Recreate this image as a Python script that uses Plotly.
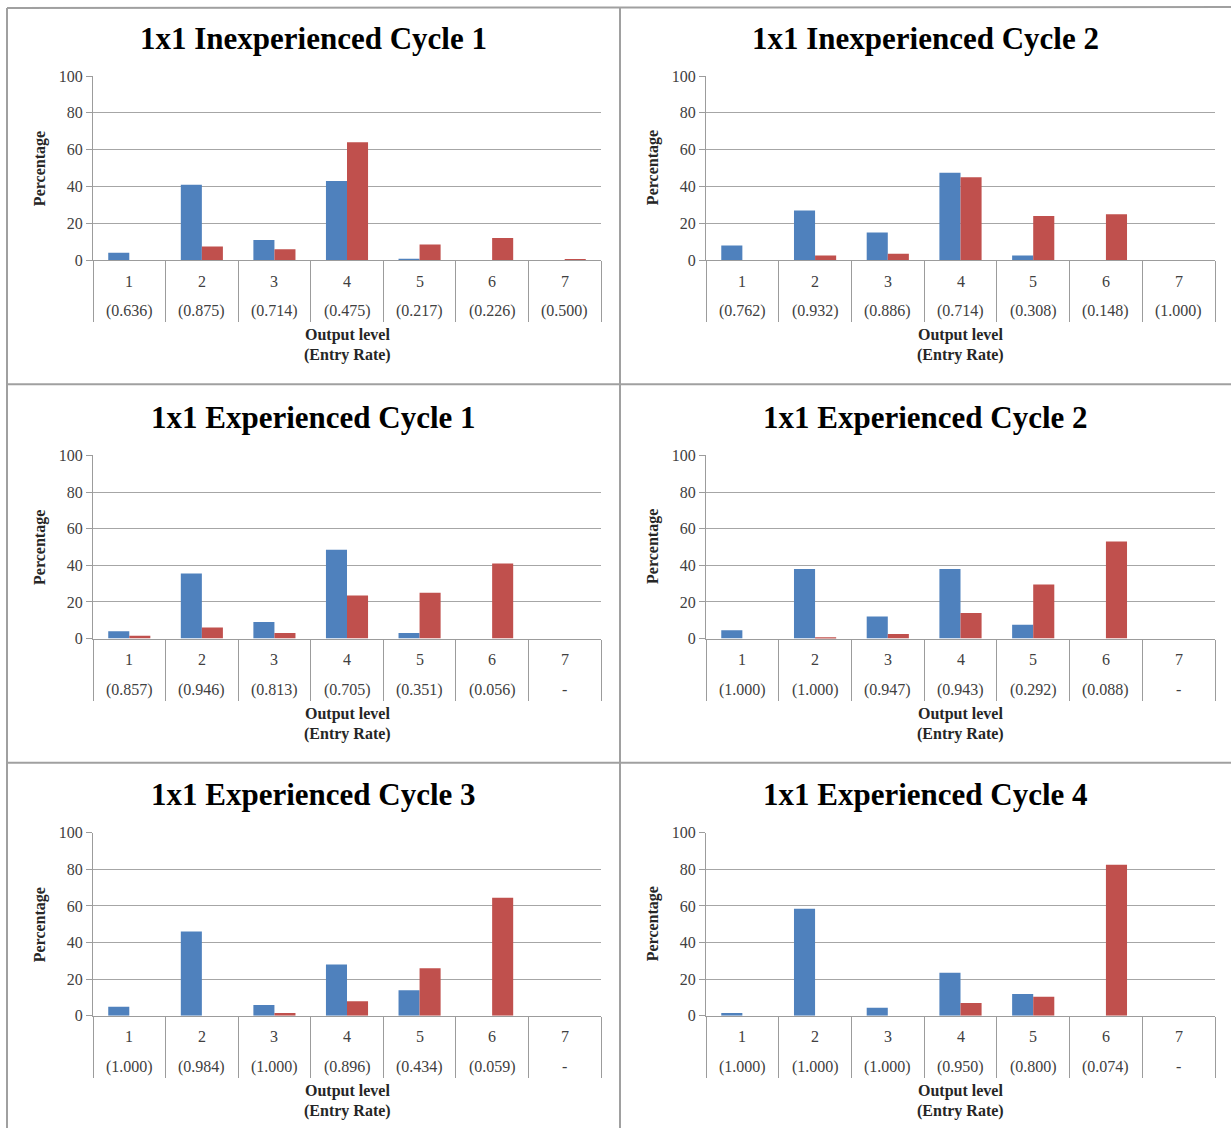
import plotly.graph_objects as go

levels = ["1", "2", "3", "4", "5", "6", "7"]

titles = [
    "1x1 Inexperienced Cycle 1",
    "1x1 Inexperienced Cycle 2",
    "1x1 Experienced Cycle 1",
    "1x1 Experienced Cycle 2",
    "1x1 Experienced Cycle 3",
    "1x1 Experienced Cycle 4",
]

blue_inexp_c1 = [4, 41, 11, 43, 0.8, 0, 0]
red_inexp_c1 = [0, 7.5, 6, 64, 8.5, 12, 0.7]
blue_inexp_c2 = [8, 27, 15, 47.5, 2.5, 0, 0]
red_inexp_c2 = [0, 2.5, 3.5, 45, 24, 25, 0]
blue_exp_c1 = [4, 35.5, 9, 48.5, 3, 0, 0]
red_exp_c1 = [1.5, 6, 3, 23.5, 25, 41, 0]
blue_exp_c2 = [4.5, 38, 12, 38, 7.5, 0, 0]
red_exp_c2 = [0, 0.7, 2.5, 14, 29.5, 53, 0]
blue_exp_c3 = [5, 46, 6, 28, 14, 0, 0]
red_exp_c3 = [0, 0, 1.5, 8, 26, 64.5, 0]
blue_exp_c4 = [1.5, 58.5, 4.5, 23.5, 12, 0, 0]
red_exp_c4 = [0, 0, 0, 7, 10.5, 82.5, 0]

rates_inexp_c1 = ["(0.636)", "(0.875)", "(0.714)", "(0.475)", "(0.217)", "(0.226)", "(0.500)"]
rates_inexp_c2 = ["(0.762)", "(0.932)", "(0.886)", "(0.714)", "(0.308)", "(0.148)", "(1.000)"]
rates_exp_c1 = ["(0.857)", "(0.946)", "(0.813)", "(0.705)", "(0.351)", "(0.056)", "-"]
rates_exp_c2 = ["(1.000)", "(1.000)", "(0.947)", "(0.943)", "(0.292)", "(0.088)", "-"]
rates_exp_c3 = ["(1.000)", "(0.984)", "(1.000)", "(0.896)", "(0.434)", "(0.059)", "-"]
rates_exp_c4 = ["(1.000)", "(1.000)", "(1.000)", "(0.950)", "(0.800)", "(0.074)", "-"]

blues = [blue_inexp_c1, blue_inexp_c2, blue_exp_c1, blue_exp_c2, blue_exp_c3, blue_exp_c4]
reds = [red_inexp_c1, red_inexp_c2, red_exp_c1, red_exp_c2, red_exp_c3, red_exp_c4]
rates = [rates_inexp_c1, rates_inexp_c2, rates_exp_c1, rates_exp_c2, rates_exp_c3, rates_exp_c4]

W, H = 1231, 1137
BLUE = "#4F81BD"
RED = "#C0504D"
GRAY = "#9c9c9c"
GRID = "#a6a6a6"
TXT = "#404040"
FONT = "Liberation Serif, Times New Roman, serif"

# layout positions in target pixels (x, y measured on the target picture)
col_px = [(93, 601), (706, 1215)]
row_px = [(76, 260), (455, 638), (832, 1015)]
title_x_px = [313, 925]
title_y_px = [38, 417, 794]


def px(x):
    return x / W


def py(y):
    # vertical calibration of the rendered page
    p = (y - 8) / 0.9842
    return 1 - p / H


fig = go.Figure()
layout = {}
annotations = []

for i in range(6):
    r, c = divmod(i, 2)
    n = i + 1
    xn = "x" if n == 1 else f"x{n}"
    yn = "y" if n == 1 else f"y{n}"
    xk = "xaxis" if n == 1 else f"xaxis{n}"
    yk = "yaxis" if n == 1 else f"yaxis{n}"
    fig.add_trace(go.Bar(x=levels, y=blues[i], marker_color=BLUE, marker_line_width=0,
                         xaxis=xn, yaxis=yn, showlegend=False))
    fig.add_trace(go.Bar(x=levels, y=reds[i], marker_color=RED, marker_line_width=0,
                         xaxis=xn, yaxis=yn, showlegend=False))
    x0, x1 = col_px[c]
    y0, y1 = row_px[r]
    layout[xk] = dict(
        domain=[px(x0), px(x1)], anchor=yn, type="category",
        range=[-0.5, 6.5], tickson="boundaries", ticks="outside", ticklen=61,
        tickcolor=GRAY, tickwidth=1, showticklabels=False,
        showline=True, linecolor=GRAY, linewidth=1, showgrid=False, fixedrange=True,
    )
    layout[yk] = dict(
        domain=[py(y1), py(y0)], anchor=xn, range=[0, 100], dtick=20,
        ticks="outside", ticklen=6, tickcolor=GRAY, showline=True, linecolor=GRAY,
        linewidth=1, showgrid=True, gridcolor=GRID, gridwidth=1, zeroline=False,
        tickfont=dict(family=FONT, size=16, color=TXT), fixedrange=True,
    )
    xd = f"{xn} domain"
    yd = f"{yn} domain"
    for j, lv in enumerate(levels):
        annotations.append(dict(x=j, xref=xn, y=0, yref=yd, yshift=-21, text=lv,
                                showarrow=False, yanchor="middle",
                                font=dict(family=FONT, size=16, color=TXT)))
        annotations.append(dict(x=j, xref=xn, y=0, yref=yd, yshift=-51, text=rates[i][j],
                                showarrow=False, yanchor="middle",
                                font=dict(family=FONT, size=16, color=TXT)))
    annotations.append(dict(x=0.5, xref=xd, y=0, yref=yd, yshift=-75, text="<b>Output level</b>",
                            showarrow=False, yanchor="middle",
                            font=dict(family=FONT, size=16, color="#262626")))
    annotations.append(dict(x=0.5, xref=xd, y=0, yref=yd, yshift=-95, text="<b>(Entry Rate)</b>",
                            showarrow=False, yanchor="middle",
                            font=dict(family=FONT, size=16, color="#262626")))
    annotations.append(dict(x=px(40 + 613 * c), xref="paper", y=0.5, yref=yd, text="<b>Percentage</b>",
                            textangle=-90, showarrow=False, xanchor="center", yanchor="middle",
                            font=dict(family=FONT, size=16, color="#262626")))
    annotations.append(dict(x=px(title_x_px[c]), xref="paper", y=py(title_y_px[r]), yref="paper",
                            text=f"<b>{titles[i]}</b>", showarrow=False,
                            xanchor="center", yanchor="middle",
                            font=dict(family=FONT, size=31, color="#000000")))

shapes = []
BORDER = "#a0a0a0"
for (a, b, c2, d) in [(7, 7, 7, 1160), (620, 7, 620, 1160), (7, 7, 1231, 7),
                      (7, 384, 1231, 384), (7, 762, 1231, 762)]:
    y_a = min(py(b), 1.0)
    y_b = max(py(d), 0.0)
    shapes.append(dict(type="line", xref="paper", yref="paper", x0=px(a), y0=y_a,
                       x1=px(c2), y1=y_b, line=dict(color=BORDER, width=2)))

fig.update_layout(
    width=W, height=H, margin=dict(l=0, r=0, t=0, b=0),
    paper_bgcolor="white", plot_bgcolor="white",
    barmode="group", bargap=0.42, bargroupgap=0,
    annotations=annotations, shapes=shapes,
    font=dict(family=FONT),
    **layout,
)

post = (
    "document.body.style.margin='0px';document.body.style.padding='0px';"
    "document.documentElement.style.overflow='hidden';document.body.style.overflow='hidden';"
    "var d=document.getElementById('{plot_id}');"
    "d.style.position='fixed';d.style.top='0px';d.style.left='0px';"
)
fig.write_html("out.html", config={"displayModeBar": False}, post_script=post)
